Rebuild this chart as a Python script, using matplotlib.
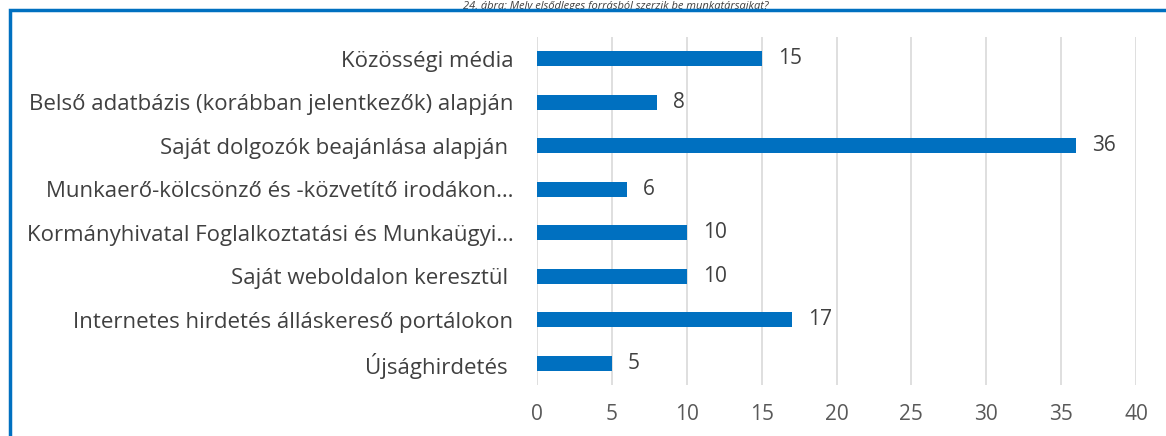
import matplotlib
matplotlib.use("Agg")
import matplotlib.pyplot as plt
from matplotlib.patches import Rectangle

categories = [
    "Közösségi média",
    "Belső adatbázis (korábban jelentkezők) alapján",
    "Saját dolgozók beajánlása alapján ",
    "Munkaerő-kölcsönző és -közvetítő irodákon…",
    "Kormányhivatal Foglalkoztatási és Munkaügyi…",
    "Saját weboldalon keresztül ",
    "Internetes hirdetés álláskereső portálokon",
    "Újsághirdetés ",
]
values = [15, 8, 36, 6, 10, 10, 17, 5]
xticks = [0, 5, 10, 15, 20, 25, 30, 35, 40]
title = "24. ábra: Mely elsődleges forrásból szerzik be munkatársaikat?"

plt.rcParams['font.family'] = ['Open Sans', 'DejaVu Sans']

W, H = 1166, 436
fig = plt.figure(figsize=(W / 100, H / 100), dpi=100)
ax = fig.add_axes([537 / W, 1 - 385 / H, (1136 - 537) / W, (385 - 37) / H])

n = len(categories)
ypos = list(range(n - 1, -1, -1))
ax.barh(ypos, values, height=0.34, color="#0070C0", zorder=3)
for y, v in zip(ypos, values):
    ax.annotate(str(v), (v, y), xytext=(16, 0), textcoords="offset pixels",
                va="center", ha="left", fontsize=15, color="#404040")

ax.set_xlim(0, 40)
ax.set_ylim(-0.5, n - 0.5)
ax.set_xticks(xticks)
ax.set_xticklabels([str(t) for t in xticks])
ax.set_yticks(ypos)
ax.set_yticklabels(categories)
ax.tick_params(axis="x", length=0, pad=14, labelsize=15, labelcolor="#595959")
ax.tick_params(axis="y", length=0, pad=17, labelsize=16, labelcolor="#404040")
ax.grid(axis="x", color="#D9D9D9", linewidth=1.2, zorder=0)
for s in ax.spines.values():
    s.set_visible(False)

# blue frame (partial)
fig.patches.append(Rectangle((9.5 / W, -0.1), 1.2, (H - 10) / H + 0.1, transform=fig.transFigure,
                             fill=False, edgecolor="#0070C0", linewidth=2.5, zorder=10))
# title strip at top
fig.text(616 / W, 1 - 0.5 / H, title, ha="center", va="top", fontsize=8,
         style="italic", color="#404040")

fig.savefig("out.png", dpi=100)
